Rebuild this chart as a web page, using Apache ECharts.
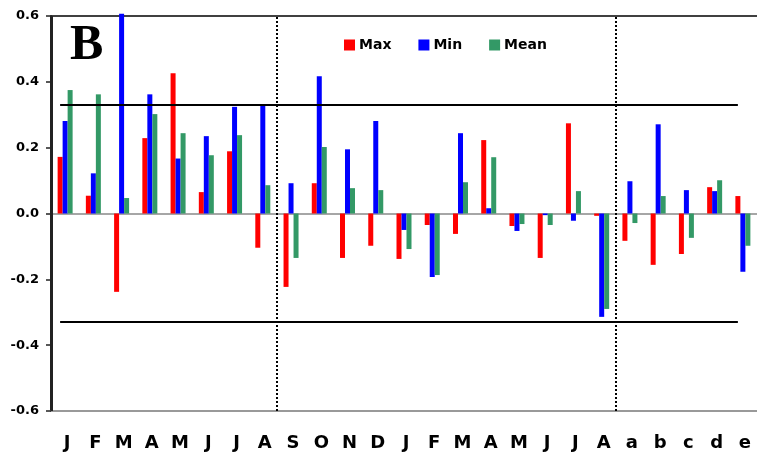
<!DOCTYPE html>
<html>
<head>
<meta charset="utf-8">
<script src="https://cdn.jsdelivr.net/npm/echarts@6/dist/echarts.min.js"></script>
<style>html,body{margin:0;padding:0;background:#fff}#c{width:757px;height:457px}</style>
</head>
<body>
<div id="c"></div>
<script>
const categories = ['J','F','M','A','M','J','J','A','S','O','N','D','J','F','M','A','M','J','J','A','a','b','c','d','e'];
const maxValues  = [0.172,0.054,-0.238,0.229,0.426,0.065,0.189,-0.104,-0.223,0.092,-0.135,-0.098,-0.138,-0.035,-0.062,0.223,-0.038,-0.135,0.274,-0.007,-0.083,-0.156,-0.123,0.080,0.053];
const minValues  = [0.281,0.122,0.607,0.362,0.167,0.235,0.324,0.327,0.092,0.417,0.195,0.281,-0.050,-0.193,0.244,0.016,-0.053,-0.005,-0.022,-0.314,0.098,0.271,0.071,0.068,-0.177];
const meanValues = [0.375,0.362,0.047,0.302,0.244,0.177,0.238,0.086,-0.135,0.202,0.077,0.071,-0.108,-0.187,0.095,0.171,-0.032,-0.035,0.068,-0.290,-0.029,0.053,-0.074,0.101,-0.098];
const seriesNames = ['Max','Min','Mean'];
const yTicks = [-0.6,-0.4,-0.2,0.0,0.2,0.4,0.6];
const threshold = 0.33;
const dividerAfter = [7.5, 19.5];
const panelLabel = 'B';

const chart = echarts.init(document.getElementById('c'), null, {renderer:'canvas'});
const bar = (name, data, color, extra) => Object.assign({
  name, type:'bar', data, barWidth:5, barGap:'0%', clip:false,
  itemStyle:{color}, emphasis:{disabled:true}
}, extra||{});

chart.setOption({
  animation:false,
  backgroundColor:'#fff',
  grid:{left:51, top:16, width:709, height:395, containLabel:false},
  legend:{
    data:seriesNames, left:344, top:38, padding:0, itemWidth:11, itemHeight:11, itemGap:27, icon:'rect',
    textStyle:{fontFamily:'DejaVu Sans', fontWeight:'bold', fontSize:14, color:'#000', padding:[0,0,0,-1]}
  },
  xAxis:[{
    type:'category', data:categories, boundaryGap:true,
    axisLine:{onZero:false, lineStyle:{color:'#999', width:2}},
    axisTick:{show:false},
    axisLabel:{margin:23, interval:0, fontFamily:'DejaVu Sans', fontWeight:'bold', fontSize:18, color:'#000', padding:[0,0,0,4]},
    splitLine:{show:false}
  },{
    type:'value', min:-0.5, max:categories.length-0.5, show:false
  }],
  yAxis:{
    type:'value', min:yTicks[0], max:yTicks[yTicks.length-1], interval:0.2, position:'left',
    axisLine:{show:true, onZero:false, lineStyle:{color:'#222', width:2}},
    axisTick:{show:true, inside:false, length:5, lineStyle:{color:'#222', width:1.5}},
    axisLabel:{margin:12, fontFamily:'DejaVu Sans', fontWeight:'bold', fontSize:13, color:'#000', formatter:(v)=>v.toFixed(1)},
    splitLine:{show:true, lineStyle:{color:['transparent','transparent','transparent','#888','transparent','transparent','#000'], width:1.5}}
  },
  graphic:[{type:'text', left:70, top:21, style:{text:panelLabel, font:'bold 50px "Liberation Serif"', fill:'#000'}}],
  series:[
    bar(seriesNames[0], maxValues, '#ff0000', {
      markLine:{silent:true, symbol:'none', label:{show:false}, lineStyle:{color:'#000', width:2, type:'solid'},
        data:[[{coord:[0, threshold]},{coord:[categories.length-1, threshold]}],
              [{coord:[0, -threshold]},{coord:[categories.length-1, -threshold]}]]}
    }),
    bar(seriesNames[1], minValues, '#0000ff'),
    bar(seriesNames[2], meanValues, '#339966'),
    {
      type:'scatter', xAxisIndex:1, data:[], silent:true,
      markLine:{silent:true, symbol:'none', label:{show:false}, lineStyle:{color:'#000', width:2, type:'dotted'},
        data:dividerAfter.map(v=>({xAxis:v}))}
    },
    {
      type:'scatter', xAxisIndex:1, data:[], silent:true,
      markLine:{silent:true, symbol:'none', label:{show:false}, lineStyle:{color:'#222', width:2, type:'solid'},
        data:[{xAxis:-0.47}]}
    }
  ]
});
</script>
</body>
</html>
